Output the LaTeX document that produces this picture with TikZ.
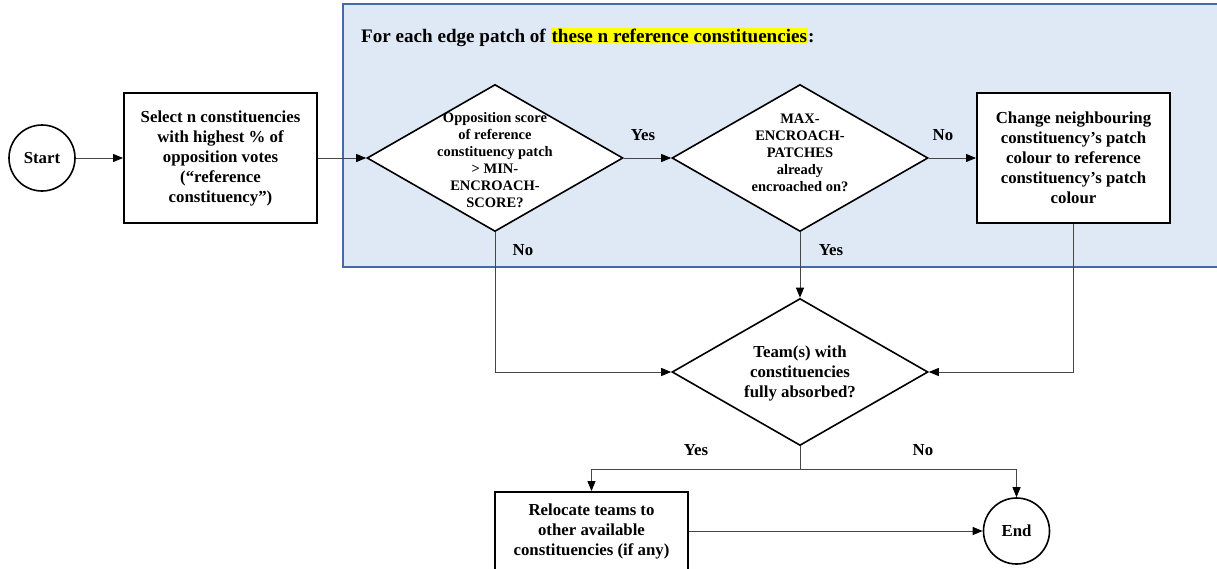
\documentclass[tikz,border=0pt]{standalone}
\usepackage{fontspec}
\setmainfont{Liberation Serif}
\usetikzlibrary{shapes.geometric,arrows.meta}
\definecolor{panelfill}{RGB}{223,233,246}
\definecolor{panelline}{RGB}{70,106,163}
\definecolor{connline}{RGB}{70,70,70}
\definecolor{hlyellow}{RGB}{255,255,0}
\begin{document}
\begin{tikzpicture}[x=1pt,y=-1pt,
  every node/.style={font=\bfseries\fontsize{16.8}{20}\selectfont, align=center, inner sep=0pt},
  procbox/.style={draw=black, line width=1.9pt, fill=white, minimum width=193pt, minimum height=130pt},
  termcircle/.style={circle, draw=black, line width=1.6pt, fill=white, minimum size=66pt},
  decision/.style={diamond, draw=black, line width=1.6pt, fill=white, minimum width=256pt, minimum height=147pt},
  smalltext/.style={font=\bfseries\fontsize{14.5}{17}\selectfont},
  conn/.style={draw=connline, line width=0.9pt, -{Triangle[length=10pt,width=8pt,color=black]}},
  nolinetip/.style={draw=connline, line width=0.9pt},
]
\useasboundingbox (0,0) rectangle (1217,568);
\fill[white] (0,0) rectangle (1217,568);
\draw[panelline, fill=panelfill, line width=2.2pt] (343,4) rectangle (1240,267);

\node[anchor=west, font=\bfseries\fontsize{19.1}{22}\selectfont] (title) at (361,37)
  {For each edge patch of {\setlength{\fboxsep}{1pt}\colorbox{hlyellow}{these n reference constituencies}}:};

\node[termcircle] (start) at (42,158) {Start};
\node[procbox] (box1) at (220.5,158) {Select n constituencies\\with highest \% of\\opposition votes\\(“reference\\constituency”)};
\node[decision] (d1) at (495,158) {};
\node[smalltext] (d1text) at (495,160) {Opposition score\\of reference\\constituency patch\\> MIN-\\ENCROACH-\\SCORE?};
\node[decision] (d2) at (800,158) {};
\node[smalltext] (d2text) at (800,153) {MAX-\\ENCROACH-\\PATCHES\\already\\encroached on?};
\node[procbox] (box3) at (1073.5,158) {Change neighbouring\\constituency’s patch\\colour to reference\\constituency’s patch\\colour};
\node[decision] (d3) at (800,372) {};
\node (d3text) at (800,373) {Team(s) with\\constituencies\\fully absorbed?};
\node[procbox, minimum height=78pt] (reloc) at (591.5,531) {Relocate teams to\\other available\\constituencies (if any)};
\node[termcircle] (end) at (1016.5,531) {End};

\coordinate (split) at (800,469);

\draw[conn] (start) -- (box1);
\draw[conn] (box1) -- (d1);
\draw[conn] (d1.east) -- (d2.west);
\draw[conn] (d2.east) -- (box3.west);
\draw[conn] (d1.south) |- (d3.west);
\draw[conn] (d2.south) -- (d3.north);
\draw[conn] (box3.south) |- (d3.east);
\draw[nolinetip] (d3.south) -- (split);
\draw[conn] (split) -| (reloc.north);
\draw[conn] (split) -| (end.north);
\draw[conn] (reloc.east) -- (end.west);

\node (lyes1) at (643,135) {Yes};
\node (lno1) at (943,135) {No};
\node (lno2) at (523,250) {No};
\node (lyes2) at (831,250) {Yes};
\node (lyes3) at (696,450) {Yes};
\node (lno3) at (923,450) {No};
\end{tikzpicture}
\end{document}
